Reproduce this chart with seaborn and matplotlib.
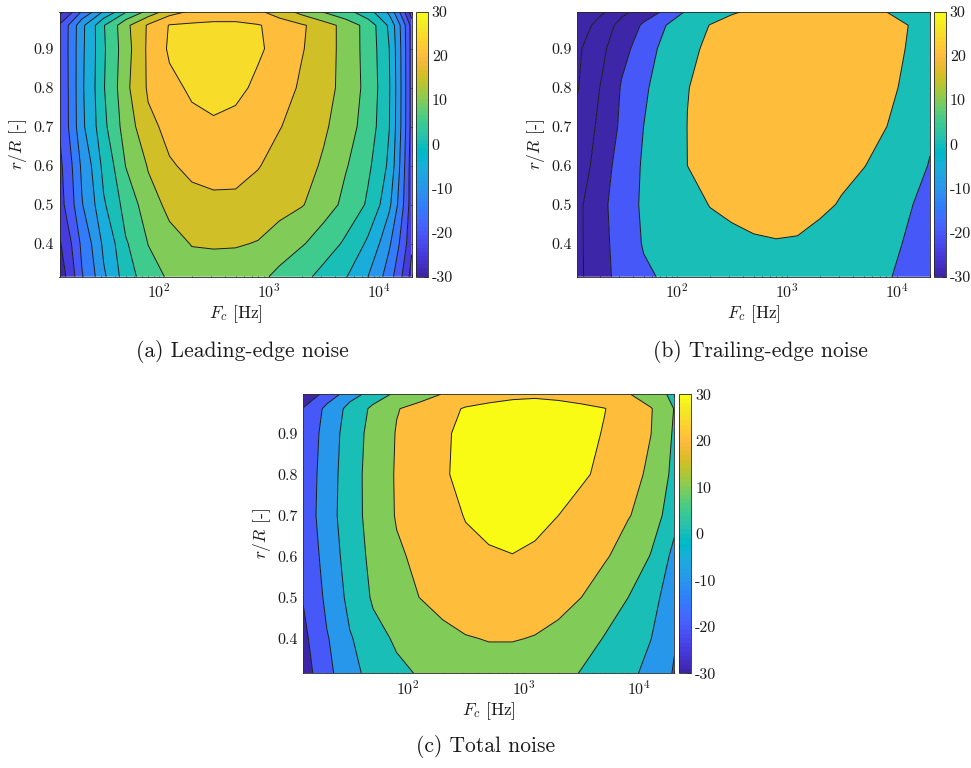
import numpy as np
import matplotlib
matplotlib.use("Agg")
import matplotlib.pyplot as plt
from matplotlib.colors import ListedColormap, Normalize
from matplotlib.cm import ScalarMappable
from matplotlib.ticker import FixedLocator, FixedFormatter, LogLocator, NullFormatter
import seaborn as sns

# ---------------------------------------------------------------- data
# one-third-octave band centre frequencies (every second band) [Hz]
freq_hz = [12.5, 20, 31.5, 50, 80, 125, 200, 315, 500, 800,
           1250, 2000, 3150, 5000, 8000, 12500, 20000]
# radial stations r/R, hub to tip
r_over_R = [0.315, 0.4, 0.5, 0.6, 0.7, 0.8, 0.9, 0.96, 0.995]

# sound pressure level [dB], one row per radial station (hub -> tip)
le_noise_db = [
    [-28.0, -15.4, -5.8, 2.9, 7.9, 10.8, 12.0, 12.5, 12.3, 11.0, 8.8, 6.2, 3.4, 0.3, -5.0, -12.8, -27.0],
    [-25.6, -13.8, -3.9, 4.5, 10.1, 13.0, 15.3, 15.5, 15.4, 14.7, 12.5, 10.4, 7.5, 4.1, -1.0, -9.3, -24.0],
    [-22.0, -10.3, -0.6, 7.2, 12.8, 16.5, 18.2, 18.8, 18.8, 18.3, 16.8, 15.3, 12.2, 8.6, 4.2, -4.0, -23.0],
    [-21.2, -9.0, 1.5, 10.1, 15.4, 19.5, 21.3, 22.0, 21.8, 20.2, 18.4, 16.5, 14.4, 10.4, 5.9, -1.1, -23.0],
    [-19.7, -6.0, 3.9, 12.6, 18.8, 21.5, 23.3, 24.2, 23.8, 22.5, 20.2, 17.9, 15.7, 12.1, 7.5, 0.1, -22.0],
    [-19.7, -5.7, 4.7, 14.0, 20.7, 23.6, 26.0, 27.0, 26.0, 24.0, 21.7, 19.3, 16.7, 13.2, 8.1, 0.4, -22.0],
    [-19.4, -5.9, 4.4, 13.3, 21.0, 25.8, 27.2, 27.8, 27.5, 25.7, 23.0, 20.3, 17.1, 13.1, 7.8, 0.0, -22.0],
    [-19.5, -6.1, 4.7, 13.9, 20.7, 25.3, 25.8, 26.0, 26.0, 25.3, 23.1, 20.6, 17.2, 13.0, 7.8, -1.0, -22.0],
    [-26.6, -14.5, -4.4, 4.5, 11.7, 17.8, 21.0, 22.3, 22.3, 20.8, 17.3, 13.3, 9.7, 6.4, 1.8, -6.3, -28.0],
]

te_noise_db = [
    [-44.0, -27.0, -12.5, -3.5, 3.5, 7.0, 10.0, 12.5, 14.0, 15.0, 14.5, 13.0, 10.0, 6.0, 1.5, -5.0, -12.0],
    [-44.0, -26.0, -11.0, 1.5, 6.5, 10.0, 13.5, 16.5, 18.5, 19.3, 19.0, 16.5, 12.5, 8.0, 3.5, -1.5, -9.0],
    [-44.0, -25.5, -8.5, 3.0, 8.5, 15.0, 20.5, 23.0, 24.5, 25.0, 24.0, 22.0, 19.0, 13.0, 7.0, 1.5, -6.0],
    [-52.0, -29.0, -11.5, 2.5, 11.3, 20.0, 23.0, 25.5, 27.0, 27.5, 27.0, 25.5, 23.0, 20.5, 13.0, 6.5, -1.0],
    [-55.0, -35.0, -16.0, 0.0, 8.5, 20.2, 24.0, 27.0, 28.5, 29.0, 29.0, 28.0, 26.5, 24.0, 20.2, 12.0, 3.0],
    [-61.0, -40.0, -18.3, -2.2, 9.0, 19.7, 24.0, 27.0, 28.5, 29.0, 29.0, 29.0, 28.0, 26.0, 23.0, 17.0, 10.0],
    [-63.0, -45.0, -26.0, -9.4, 7.5, 17.0, 23.0, 26.0, 27.5, 28.0, 28.5, 28.5, 28.0, 27.0, 24.5, 19.3, 13.0],
    [-72.0, -51.0, -33.0, -17.0, 0.0, 11.0, 20.5, 24.0, 26.0, 27.0, 27.5, 27.5, 27.0, 26.0, 24.0, 20.2, 12.0],
    [-75.0, -65.0, -45.0, -30.0, -16.0, 3.3, 11.0, 18.8, 22.0, 23.5, 24.0, 24.0, 23.0, 22.0, 20.0, 14.0, 8.0],
]

total_noise_db = [
    [-24.0, -12.5, -2.5, 3.2, 7.5, 11.0, 13.0, 14.5, 15.5, 15.5, 14.5, 12.5, 9.5, 6.5, 2.0, -3.0, -11.0],
    [-22.0, -10.7, -0.8, 6.5, 11.7, 15.0, 17.5, 19.5, 20.5, 20.5, 19.5, 17.0, 13.5, 9.5, 4.5, 0.2, -9.0],
    [-19.5, -7.5, 3.0, 11.3, 15.5, 20.0, 23.0, 25.0, 26.0, 26.5, 25.5, 23.5, 20.0, 15.0, 10.0, 3.0, -6.0],
    [-17.0, -5.7, 5.0, 12.8, 18.5, 22.5, 25.5, 27.5, 29.0, 29.8, 28.8, 26.5, 24.0, 21.0, 15.0, 9.6, -3.5],
    [-15.5, -4.0, 6.2, 14.0, 20.8, 24.0, 27.0, 30.5, 32.5, 33.0, 32.0, 30.0, 27.5, 24.0, 20.6, 14.5, 4.0],
    [-16.0, -4.5, 6.0, 14.4, 21.0, 25.0, 29.3, 32.0, 33.0, 33.5, 33.0, 32.0, 31.0, 28.0, 23.5, 17.8, 7.0],
    [-17.0, -5.5, 5.3, 13.7, 20.6, 24.8, 29.0, 32.0, 33.0, 33.5, 33.5, 33.0, 32.0, 29.5, 25.0, 20.2, 8.5],
    [-19.5, -7.0, 3.5, 12.3, 19.5, 23.5, 27.5, 30.8, 32.0, 32.5, 32.5, 32.0, 31.5, 30.2, 25.5, 20.6, 9.6],
    [-27.0, -16.0, -4.0, 4.5, 12.5, 15.5, 20.5, 24.0, 27.0, 28.5, 29.0, 28.5, 27.0, 25.0, 20.5, 15.0, 7.0],
]

# contour levels of each panel [dB]
le_levels = list(range(-30, 31, 5))
te_levels = list(range(-80, 41, 20))
total_levels = list(range(-30, 41, 10))

cbar_ticks = [-30, -20, -10, 0, 10, 20, 30]
cbar_labels = ["-30", "-20", "-10", "0", "10", "20", "30"]
x_major = [1e2, 1e3, 1e4]
x_major_labels = [r"$10^{2}$", r"$10^{3}$", r"$10^{4}$"]
y_major = [0.4, 0.5, 0.6, 0.7, 0.8, 0.9]
y_major_labels = ["0.4", "0.5", "0.6", "0.7", "0.8", "0.9"]

# ---------------------------------------------------------------- style
PARULA = ListedColormap([
    (0.2422, 0.1504, 0.6603), (0.2504, 0.1650, 0.7076), (0.2578, 0.1818, 0.7511), (0.2647, 0.1978, 0.7952),
    (0.2706, 0.2147, 0.8364), (0.2751, 0.2342, 0.8710), (0.2783, 0.2559, 0.8991), (0.2803, 0.2782, 0.9221),
    (0.2813, 0.3006, 0.9414), (0.2810, 0.3228, 0.9579), (0.2795, 0.3447, 0.9717), (0.2760, 0.3667, 0.9829),
    (0.2699, 0.3892, 0.9906), (0.2602, 0.4123, 0.9952), (0.2440, 0.4358, 0.9988), (0.2206, 0.4603, 0.9973),
    (0.1963, 0.4847, 0.9892), (0.1834, 0.5074, 0.9798), (0.1786, 0.5289, 0.9682), (0.1764, 0.5499, 0.9520),
    (0.1687, 0.5703, 0.9359), (0.1540, 0.5902, 0.9218), (0.1460, 0.6091, 0.9079), (0.1380, 0.6276, 0.8973),
    (0.1248, 0.6459, 0.8883), (0.1113, 0.6635, 0.8763), (0.0952, 0.6798, 0.8598), (0.0689, 0.6948, 0.8394),
    (0.0297, 0.7082, 0.8163), (0.0036, 0.7203, 0.7917), (0.0067, 0.7312, 0.7660), (0.0433, 0.7411, 0.7394),
    (0.0964, 0.7500, 0.7120), (0.1408, 0.7584, 0.6842), (0.1717, 0.7670, 0.6554), (0.1938, 0.7758, 0.6251),
    (0.2161, 0.7843, 0.5923), (0.2470, 0.7918, 0.5567), (0.2906, 0.7973, 0.5188), (0.3406, 0.8008, 0.4789),
    (0.3909, 0.8029, 0.4354), (0.4456, 0.8024, 0.3909), (0.5044, 0.7993, 0.3480), (0.5616, 0.7942, 0.3045),
    (0.6174, 0.7876, 0.2612), (0.6720, 0.7793, 0.2227), (0.7242, 0.7698, 0.1910), (0.7738, 0.7598, 0.1646),
    (0.8203, 0.7498, 0.1535), (0.8634, 0.7406, 0.1596), (0.9035, 0.7330, 0.1774), (0.9393, 0.7288, 0.2100),
    (0.9728, 0.7298, 0.2394), (0.9956, 0.7434, 0.2371), (0.9970, 0.7659, 0.2199), (0.9952, 0.7893, 0.2028),
    (0.9892, 0.8136, 0.1885), (0.9786, 0.8386, 0.1766), (0.9676, 0.8639, 0.1643), (0.9610, 0.8890, 0.1537),
    (0.9597, 0.9135, 0.1423), (0.9628, 0.9373, 0.1265), (0.9691, 0.9606, 0.1064), (0.9769, 0.9839, 0.0805),
], name="parula")
NORM = Normalize(vmin=-30, vmax=30)
AXIS_GREY = "#262626"

sns.set_theme(style="ticks")
plt.rcParams.update({
    "font.family": "serif",
    "font.serif": ["cmr10"],
    "mathtext.fontset": "cm",
    "axes.unicode_minus": False,
    "axes.formatter.use_mathtext": True,
    "axes.edgecolor": AXIS_GREY,
    "axes.linewidth": 0.6,
    "xtick.color": AXIS_GREY,
    "ytick.color": AXIS_GREY,
    "xtick.labelcolor": "#1a1a1a",
    "ytick.labelcolor": "#1a1a1a",
    "text.color": "#1a1a1a",
    "axes.labelcolor": "#1a1a1a",
    "contour.negative_linestyle": "solid",
})

W, H = 971, 768
fig = plt.figure(figsize=(W / 100, H / 100), dpi=100)
fig.patch.set_facecolor("white")


def px_axes(left, top, right, bottom):
    """Axes placed by pixel edges measured from the top-left corner."""
    return fig.add_axes([left / W, 1 - bottom / H, (right - left) / W, (bottom - top) / H])


def draw_panel(ax, cax, z, levels):
    zz = np.asarray(z, dtype=float)
    # each band takes the colour of its lower bounding level
    fills = [PARULA(NORM(max(lo, -30))) for lo in levels[:-1]]
    ax.contourf(freq_hz, r_over_R, zz, levels=levels, colors=fills, antialiased=True)
    ax.contour(freq_hz, r_over_R, zz, levels=levels, colors="k",
               linewidths=0.7, linestyles="solid")
    ax.set_xscale("log")
    ax.set_xlim(freq_hz[0], freq_hz[-1])
    ax.set_ylim(r_over_R[0], r_over_R[-1])
    ax.xaxis.set_major_locator(FixedLocator(x_major))
    ax.xaxis.set_major_formatter(FixedFormatter(x_major_labels))
    ax.xaxis.set_minor_locator(LogLocator(base=10, subs=np.arange(2, 10)))
    ax.xaxis.set_minor_formatter(NullFormatter())
    ax.yaxis.set_major_locator(FixedLocator(y_major))
    ax.yaxis.set_major_formatter(FixedFormatter(y_major_labels))
    ax.tick_params(which="both", direction="in", top=True, right=True, width=0.6)
    ax.tick_params(which="major", length=4, labelsize=11.5, pad=4)
    ax.tick_params(which="minor", length=2.2)
    ax.set_xlabel(r"$F_c$ [Hz]", fontsize=12.5, labelpad=2)
    ax.set_ylabel(r"$r/R$ [-]", fontsize=12.5, labelpad=3)

    cb = fig.colorbar(ScalarMappable(norm=NORM, cmap=PARULA), cax=cax, ticks=cbar_ticks)
    cb.ax.set_yticklabels(cbar_labels)
    cb.ax.tick_params(direction="in", length=3, width=0.6, labelsize=11.5, pad=3)
    cb.outline.set_linewidth(0.6)
    cb.outline.set_edgecolor(AXIS_GREY)


ax_a = px_axes(59.5, 11.7, 411.7, 276.7)
cax_a = px_axes(416.0, 11.7, 427.7, 276.7)
ax_b = px_axes(577.3, 11.7, 930.0, 276.7)
cax_b = px_axes(934.0, 11.7, 945.7, 276.7)
ax_c = px_axes(303.3, 394.3, 674.3, 673.3)
cax_c = px_axes(679.0, 394.3, 691.0, 673.3)

draw_panel(ax_a, cax_a, le_noise_db, le_levels)
draw_panel(ax_b, cax_b, te_noise_db, te_levels)
draw_panel(ax_c, cax_c, total_noise_db, total_levels)

fig.text(242 / W, 1 - 352 / H, "(a) Leading-edge noise", ha="center", va="center", fontsize=15.5)
fig.text(760 / W, 1 - 352 / H, "(b) Trailing-edge noise", ha="center", va="center", fontsize=15.5)
fig.text(486 / W, 1 - 747 / H, "(c) Total noise", ha="center", va="center", fontsize=15.5)

fig.savefig("out.png", dpi=100, facecolor="white")
